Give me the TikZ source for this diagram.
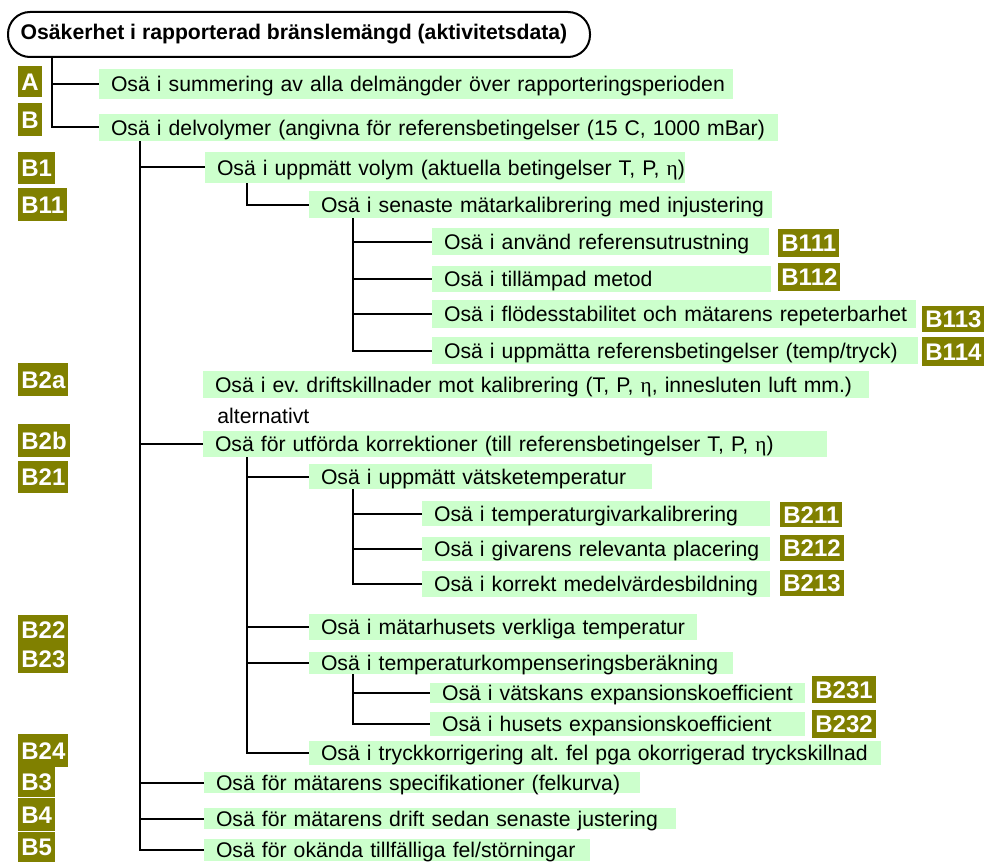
\documentclass[tikz,border=0pt]{standalone}
\usepackage{fontspec}
\setmainfont{Liberation Sans}
\newfontfamily\symfam{Liberation Serif}
\definecolor{oliv}{RGB}{128,128,0}
\definecolor{ljusgron}{RGB}{204,255,204}
\newcommand{\osafont}{\fontsize{10.6}{12}\selectfont\frenchspacing}
\newcommand{\etatkn}{{\symfam η}}
\tikzset{
  titel/.style={draw, line width=1pt, rounded corners=11pt, minimum width=291pt,
    minimum height=22.5pt, inner sep=0pt, font=\osafont\bfseries},
  osa/.style 2 args={fill=ljusgron, anchor=west, inner sep=0pt, text width=#1*0.5pt,
    align=left, minimum height=#2*0.5pt, text height=7.6pt, text depth=0pt,
    font=\osafont, execute at begin node={\hspace*{5.8pt}\hbox\bgroup},
    execute at end node={\egroup}},
  kod/.style={fill=oliv, text=white, anchor=west, inner xsep=1.5pt, inner ysep=0pt,
    minimum height=#1*0.5pt, text height=8.6pt, text depth=0pt,
    font=\fontsize{12}{14}\selectfont\bfseries},
  kod/.default=31,
  gren/.style={line width=1pt},
}
\begin{document}
\begin{tikzpicture}[x=0.5pt, y=-0.5pt]
  \useasboundingbox (0,0) rectangle (988,861);
  % Rubrik
  \node[titel] (titel) at (299,34.5) {Osäkerhet i rapporterad bränslemängd (aktivitetsdata)\hspace*{5pt}};
  % Delosäkerheter
  \node[osa={634}{30}] (A) at (99,84) {Osä i summering av alla delmängder över rapporteringsperioden};
  \node[osa={679}{27}] (B) at (99,127.5) {Osä i delvolymer (angivna för referensbetingelser (15 C, 1000 mBar)};
  \node[osa={480}{31}] (B1) at (205,167.5) {Osä i uppmätt volym (aktuella betingelser T, P, \etatkn)};
  \node[osa={463}{27}] (B11) at (309,204.5) {Osä i senaste mätarkalibrering med injustering};
  \node[osa={337}{27}] (B111) at (432,241.5) {Osä i använd referensutrustning};
  \node[osa={339}{26}] (B112) at (432,279) {Osä i tillämpad metod};
  \node[osa={484}{28}] (B113) at (432,314) {Osä i flödesstabilitet och mätarens repeterbarhet};
  \node[osa={486}{27}] (B114) at (432,350.5) {Osä i uppmätta referensbetingelser (temp/tryck)};
  \node[osa={666}{27}] (B2a) at (203,384.5) {Osä i ev. driftskillnader mot kalibrering (T, P, \etatkn, innesluten luft mm.)};
  \node[anchor=base west, inner sep=0pt, font=\osafont] (alt) at (217,423) {alternativt};
  \node[osa={624}{26}] (B2b) at (203,444) {Osä för utförda korrektioner (till referensbetingelser T, P, \etatkn)};
  \node[osa={343}{25}] (B21) at (309,476.5) {Osä i uppmätt vätsketemperatur};
  \node[osa={348}{25}] (B211) at (422,513.5) {Osä i temperaturgivarkalibrering};
  \node[osa={348}{24}] (B212) at (422,549) {Osä i givarens relevanta placering};
  \node[osa={348}{26}] (B213) at (422,584) {Osä i korrekt medelvärdesbildning};
  \node[osa={388}{26}] (B22) at (309,627) {Osä i mätarhusets verkliga temperatur};
  \node[osa={424}{22}] (B23) at (309,663) {Osä i temperaturkompenseringsberäkning};
  \node[osa={375}{20}] (B231) at (430,693) {Osä i vätskans expansionskoefficient};
  \node[osa={375}{24}] (B232) at (430,724) {Osä i husets expansionskoefficient};
  \node[osa={572}{24}] (B24) at (309,753) {Osä i tryckkorrigering alt. fel pga okorrigerad tryckskillnad};
  \node[osa={436}{21}] (B3) at (204,782.5) {Osä för mätarens specifikationer (felkurva)};
  \node[osa={472}{21}] (B4) at (204,818.5) {Osä för mätarens drift sedan senaste justering};
  \node[osa={386}{22}] (B5) at (204,850) {Osä för okända tillfälliga fel/störningar};
  % Koder
  \node[kod] (kA) at (18,81.5) {A};
  \node[kod=33] (kB) at (18,119.5) {B};
  \node[kod=32] (kB1) at (18,168) {B1};
  \node[kod=33] (kB11) at (18,204.5) {B11};
  \node[kod=33] (kB2a) at (18,379.5) {B2a};
  \node[kod=33] (kB2b) at (18,440.5) {B2b};
  \node[kod=32] (kB21) at (18,477) {B21};
  \node[kod=29] (kB22) at (18,629.5) {B22};
  \node[kod=29] (kB23) at (18,658.5) {B23};
  \node[kod=33] (kB24) at (18,750.5) {B24};
  \node[kod=30] (kB3) at (18,782) {B3};
  \node[kod=33] (kB4) at (18,814.5) {B4};
  \node[kod=30] (kB5) at (18,847) {B5};
  \node[kod=28] (kB111) at (778,243) {B111};
  \node[kod=28] (kB112) at (778,277) {B112};
  \node[kod=26] (kB113) at (922,319) {B113};
  \node[kod=29] (kB114) at (922,351.5) {B114};
  \node[kod=25] (kB211) at (780,514.5) {B211};
  \node[kod=26] (kB212) at (780,548) {B212};
  \node[kod=26] (kB213) at (780,583) {B213};
  \node[kod=27] (kB231) at (812,689.5) {B231};
  \node[kod=28] (kB232) at (812,724) {B232};
  % Grenar
  \coordinate (s0) at (52,0);
  \coordinate (s1) at (140,0);
  \coordinate (s2) at (247,0);
  \coordinate (s3) at (353,0);
  \draw[gren] (titel.south -| s0) |- (B.west);
  \draw[gren] (s0 |- A.west) -- (A.west);
  \draw[gren] (B.south -| s1) |- (B5.west);
  \foreach \n in {B1,B2b,B3,B4} {
    \draw[gren] (s1 |- \n.west) -- (\n.west);
  }
  \draw[gren] (B1.south -| s2) |- (B11.west);
  \draw[gren] (B11.south -| s3) |- (B114.west);
  \foreach \n in {B111,B112,B113} {
    \draw[gren] (s3 |- \n.west) -- (\n.west);
  }
  \draw[gren] (B2b.south -| s2) |- (B24.west);
  \foreach \n in {B21,B22,B23} {
    \draw[gren] (s2 |- \n.west) -- (\n.west);
  }
  \draw[gren] (B21.south -| s3) |- (B213.west);
  \foreach \n in {B211,B212} {
    \draw[gren] (s3 |- \n.west) -- (\n.west);
  }
  \draw[gren] (B23.south -| s3) |- (B232.west);
  \draw[gren] (s3 |- B231.west) -- (B231.west);
\end{tikzpicture}
\end{document}
